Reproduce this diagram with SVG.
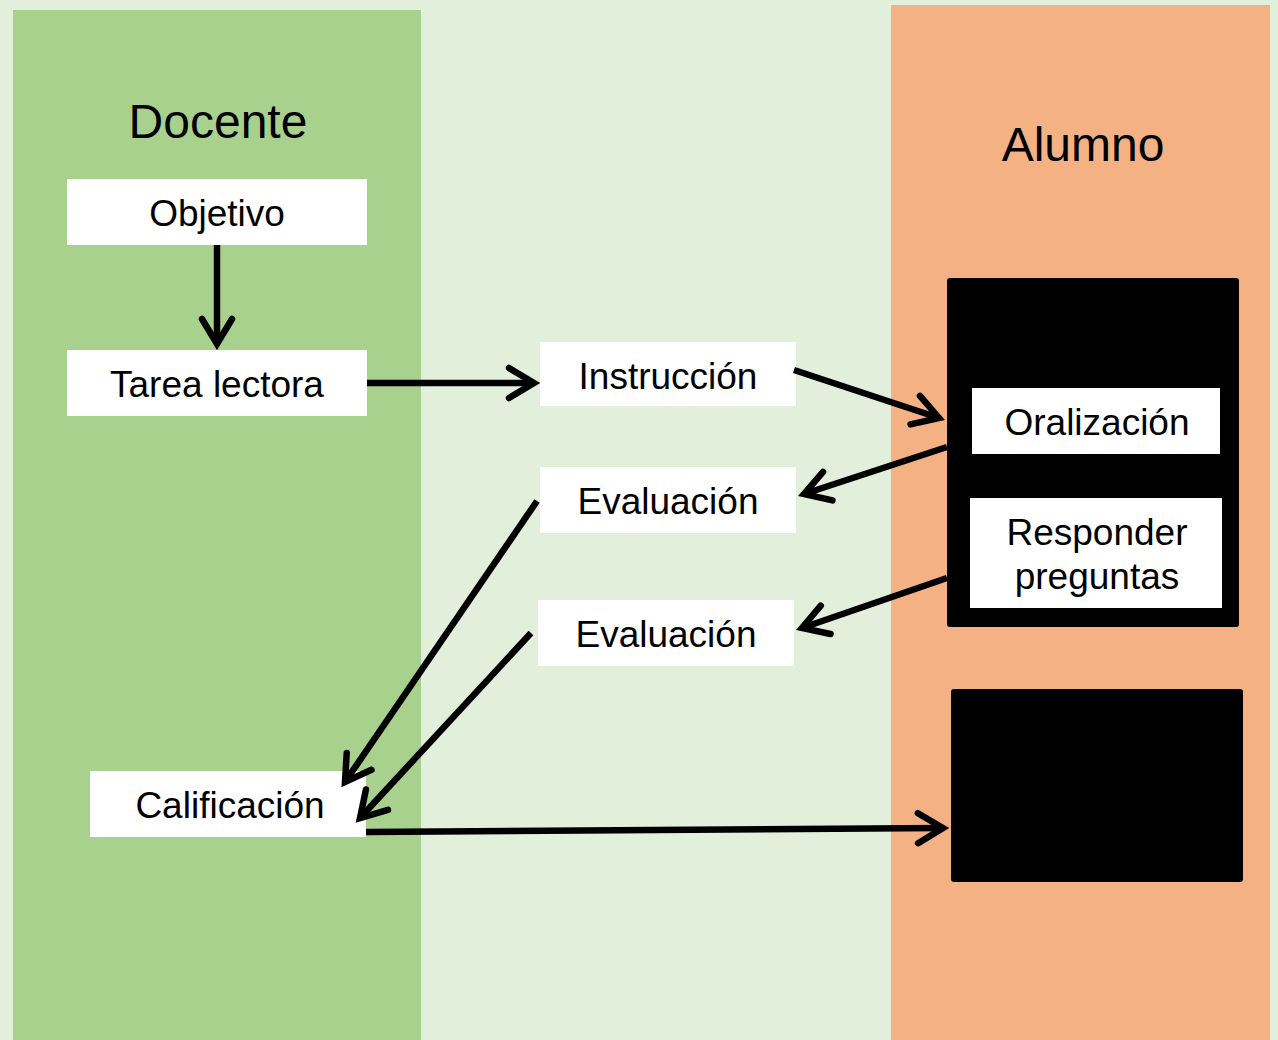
<svg xmlns="http://www.w3.org/2000/svg" width="1278" height="1040" viewBox="0 0 1278 1040">
<style>
.lbl{font-family:"Liberation Sans",Arial,sans-serif;font-size:37px;fill:#000;text-anchor:middle}
.ttl{font-family:"Liberation Sans",Arial,sans-serif;font-size:48px;fill:#000;text-anchor:middle}
.box{fill:#fff}
.blk{fill:#000}
.conn{fill:none;stroke:#000;stroke-width:6.5;stroke-linecap:butt}
</style>
<defs>
<marker id="ah" markerUnits="userSpaceOnUse" markerWidth="60" markerHeight="60" viewBox="-40 -30 60 60" refX="0" refY="0" orient="auto" overflow="visible">
<path d="M-25,-15 L0,0 L-25,15" fill="none" stroke="#000" stroke-width="6.5" stroke-linecap="round" stroke-linejoin="miter"/>
</marker>
</defs>
<rect x="0" y="0" width="1278" height="1040" fill="#E2EFDA"/>
<rect x="13" y="10" width="408" height="1030" fill="#A9D18E"/>
<rect x="891" y="5" width="379" height="1035" fill="#F4B183"/>
<text class="ttl" x="218" y="138">Docente</text>
<text class="ttl" x="1083" y="161">Alumno</text>

<g id="objetivo"><rect class="box" x="67" y="179" width="300" height="66"/><text class="lbl" x="217" y="226">Objetivo</text></g>
<g id="tarea"><rect class="box" x="67" y="350" width="300" height="66"/><text class="lbl" x="217" y="397">Tarea lectora</text></g>
<g id="instruccion"><rect class="box" x="540" y="342" width="256" height="64"/><text class="lbl" x="668" y="389">Instrucción</text></g>
<g id="evaluacion1"><rect class="box" x="540" y="467" width="256" height="66"/><text class="lbl" x="668" y="514">Evaluación</text></g>
<g id="evaluacion2"><rect class="box" x="538" y="600" width="256" height="66"/><text class="lbl" x="666" y="647">Evaluación</text></g>
<g id="calificacion"><rect class="box" x="90" y="771" width="276" height="66"/><text class="lbl" x="230" y="818">Calificación</text></g>
<g id="alumno-actividades">
<rect class="blk" x="947" y="278" width="292" height="349" rx="3"/>
<g id="oralizacion"><rect class="box" x="972" y="388" width="248" height="66"/><text class="lbl" x="1097" y="435">Oralización</text></g>
<g id="responder"><rect class="box" x="970" y="498" width="252" height="110"/><text class="lbl" x="1097" y="545">Responder</text><text class="lbl" x="1097" y="589">preguntas</text></g>
</g>
<g id="resultado"><rect class="blk" x="951" y="689" width="292" height="193" rx="3"/></g>

<g id="connectors">
<line class="conn" x1="217" y1="245" x2="217" y2="344" marker-end="url(#ah)"/>
<line class="conn" x1="367" y1="383" x2="534" y2="383" marker-end="url(#ah)"/>
<line class="conn" x1="794" y1="370" x2="939" y2="418" marker-end="url(#ah)"/>
<line class="conn" x1="947" y1="447" x2="804" y2="494" marker-end="url(#ah)"/>
<line class="conn" x1="947" y1="578" x2="802" y2="628" marker-end="url(#ah)"/>
<line class="conn" x1="537" y1="501" x2="345" y2="782" marker-end="url(#ah)"/>
<line class="conn" x1="531" y1="633" x2="360" y2="818" marker-end="url(#ah)"/>
<line class="conn" x1="366" y1="832" x2="943" y2="828" marker-end="url(#ah)"/>
</g>
</svg>
